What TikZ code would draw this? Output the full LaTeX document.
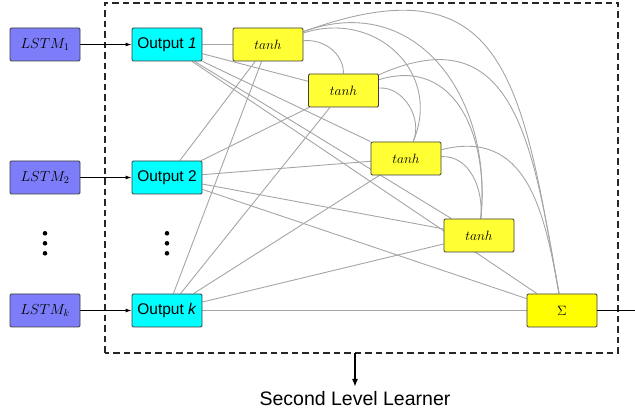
\RequirePackage{fix-cm}
\documentclass[tikz,border=0pt]{standalone}
\usepackage{fontspec}
\setmainfont{Liberation Sans}
\usetikzlibrary{arrows.meta,backgrounds}

\definecolor{lstmfill}{RGB}{125,125,250}
\definecolor{outfill}{RGB}{0,255,255}
\definecolor{tanhfill}{RGB}{255,255,51}
\definecolor{sumfill}{RGB}{255,255,0}
\definecolor{boxline}{RGB}{60,60,60}
\definecolor{wirecol}{RGB}{165,165,165}

\begin{document}
\begin{tikzpicture}[x=1pt,y=1pt,
  unit/.style={draw=boxline, line width=0.9pt, rounded corners=1.2pt,
    minimum width=70pt, minimum height=33pt, inner sep=0pt},
  lstm/.style={unit, fill=lstmfill, font=\fontsize{14.5}{16}\selectfont},
  outnode/.style={unit, fill=outfill, font=\fontsize{15.5}{18}\selectfont},
  act/.style={unit, fill=tanhfill, font=\fontsize{13.5}{16}\selectfont},
  summ/.style={unit, fill=sumfill, font=\fontsize{13.5}{16}\selectfont},
  wire/.style={draw=wirecol, line width=0.9pt},
  feed/.style={draw=black, line width=0.9pt, -{Latex[length=6pt,width=4pt]}},
  frame/.style={draw=black!85, line width=1.2pt, dash pattern=on 6.5pt off 4pt},
  dotmark/.style={fill=black}
]
\useasboundingbox (0,0) rectangle (635,417);

% first level: LSTM units
\node[lstm] (l1) at (45,372.5) {$LSTM_1$};
\node[lstm] (l2) at (45,239.5) {$LSTM_2$};
\node[lstm] (lk) at (45,106.5) {$LSTM_k$};

% their outputs
\node[outnode] (o1) at (167,372.5) {Output \textit{1}};
\node[outnode] (o2) at (167,239.5) {Output 2};
\node[outnode] (ok) at (167,106.5) {Output \textit{k}};

% hidden tanh units and the sum
\node[act] (t1) at (268,372.5) {$tanh$};
\node[act] (t2) at (343.5,326.5) {$tanh$};
\node[act] (t3) at (406,258.5) {$tanh$};
\node[act] (t4) at (479,181.5) {$tanh$};
\node[summ] (sig) at (562,106.5) {$\Sigma$};

% vertical ellipses
\foreach \x in {45,167}
  \foreach \y in {183.7,173.7,163.7}
    \fill[dotmark] (\x,\y) circle (2.3pt);

% dashed frame of the second level learner
\coordinate (frSW) at (105,64);
\coordinate (frNE) at (618,414);
\coordinate (frB) at (355,64);
\draw[frame] (frSW) rectangle (frNE);

\coordinate (outR) at (637,106.5);
\coordinate (arrTip) at (355,30);
\node[font=\fontsize{19.5}{22}\selectfont, anchor=base] (learner) at (355,11) {Second Level Learner};

\begin{scope}[on background layer]
  % outputs feed every hidden unit and the sum
  \foreach \o in {o1,o2,ok}
    \foreach \t in {t1,t2,t3,t4,sig}
      \draw[wire] (\o) -- (\t);
  % skip connections between hidden units
  \draw[wire] (t1) to[out=6,in=90] (t2);
  \draw[wire] (t1) to[out=18,in=67,looseness=1.25] (t3);
  \draw[wire] (t1) to[out=20,in=84,looseness=1.2] (t4);
  \draw[wire] (t1) to[out=20,in=100,looseness=1.5] (sig);
  \draw[wire] (t2) to[out=4,in=67] (t3);
  \draw[wire] (t2) to[out=17,in=84,looseness=1.2] (t4);
  \draw[wire] (t2) to[out=24,in=100,looseness=1.35] (sig);
  \draw[wire] (t3) to[out=3,in=84] (t4);
  \draw[wire] (t3) to[out=14,in=100,looseness=1.2] (sig);
\end{scope}

% first level to second level
\draw[feed] (l1) -- (o1);
\draw[feed] (l2) -- (o2);
\draw[feed] (lk) -- (ok);
\draw[black, line width=1.2pt] (sig) -- (outR);
\draw[black, line width=2pt, -{Latex[length=8pt,width=6pt]}] (frB) -- (arrTip);
\end{tikzpicture}
\end{document}
